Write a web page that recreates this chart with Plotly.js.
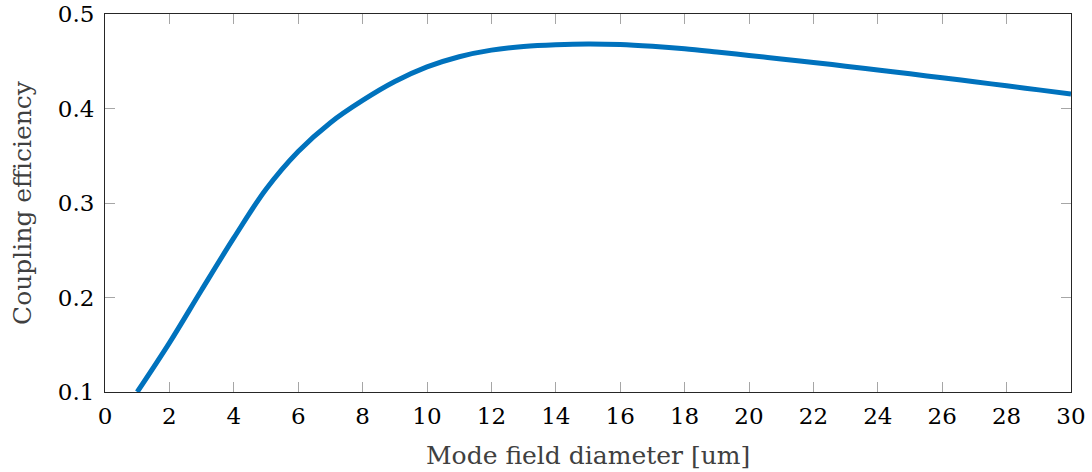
<!DOCTYPE html>
<html>
<head>
<meta charset="utf-8">
<script src="https://cdn.plot.ly/plotly-3.0.1.min.js"></script>
<style>html,body{margin:0;padding:0;background:#fff;}#chart{width:1092px;height:472px;}</style>
</head>
<body>
<div id="chart"></div>
<script>
const modeFieldDiameter = [1,2,3,4,5,6,7,8,9,10,11,12,13,14,15,16,17,18,19,20,21,22,23,24,25,26,27,28,29,30];
const couplingEfficiency = [0.100,0.152,0.208,0.263,0.3145,0.3545,0.385,0.4085,0.4285,0.4440,0.4548,0.4618,0.4656,0.4675,0.4683,0.4677,0.4658,0.4632,0.4598,0.4562,0.4525,0.4487,0.4448,0.4408,0.4367,0.4325,0.4283,0.4240,0.4197,0.4153];
const xTicks = [0,2,4,6,8,10,12,14,16,18,20,22,24,26,28,30];
const yTicks = [0.1,0.2,0.3,0.4,0.5];
const yTickText = ['0.1','0.2','0.3','0.4','0.5'];
const xTitle = 'Mode field diameter [um]';
const yTitle = 'Coupling efficiency';

const fontFam = 'DejaVu Serif';

const trace = {
  x: modeFieldDiameter,
  y: couplingEfficiency,
  mode: 'lines',
  line: {color: '#0072BD', width: 5, shape: 'spline', smoothing: 1},
  hoverinfo: 'skip'
};

const axisCommon = {
  showgrid: false,
  zeroline: false,
  showline: true,
  linecolor: '#262626',
  linewidth: 1,
  mirror: 'ticks',
  ticks: 'inside',
  ticklen: 10,
  tickwidth: 1,
  tickcolor: '#a6a6a6',
  tickfont: {family: fontFam, size: 23, color: '#000'}
};

const layout = {
  width: 1092,
  height: 472,
  margin: {l: 105, r: 21, t: 14, b: 80},
  paper_bgcolor: '#fff',
  plot_bgcolor: '#fff',
  showlegend: false,
  font: {family: fontFam},
  xaxis: Object.assign({}, axisCommon, {
    range: [0, 30],
    tickmode: 'array',
    tickvals: xTicks,
    ticktext: xTicks.map(String),
    ticklabelstandoff: 3
  }),
  yaxis: Object.assign({}, axisCommon, {
    range: [0.1, 0.5],
    tickmode: 'array',
    tickvals: yTicks,
    ticktext: yTickText,
    ticklabelstandoff: 5
  }),
  annotations: [
    {text: xTitle, xref: 'paper', yref: 'paper', x: 0.5, y: 0, xanchor: 'center', yanchor: 'middle',
     yshift: -63, showarrow: false, font: {family: fontFam, size: 25, color: '#404040'}},
    {text: yTitle, xref: 'paper', yref: 'paper', x: 0, y: 0.5, xanchor: 'center', yanchor: 'middle',
     xshift: -83, textangle: -90, showarrow: false, font: {family: fontFam, size: 25, color: '#404040'}}
  ]
};

Plotly.newPlot('chart', [trace], layout, {displayModeBar: false, staticPlot: true});
</script>
</body>
</html>
